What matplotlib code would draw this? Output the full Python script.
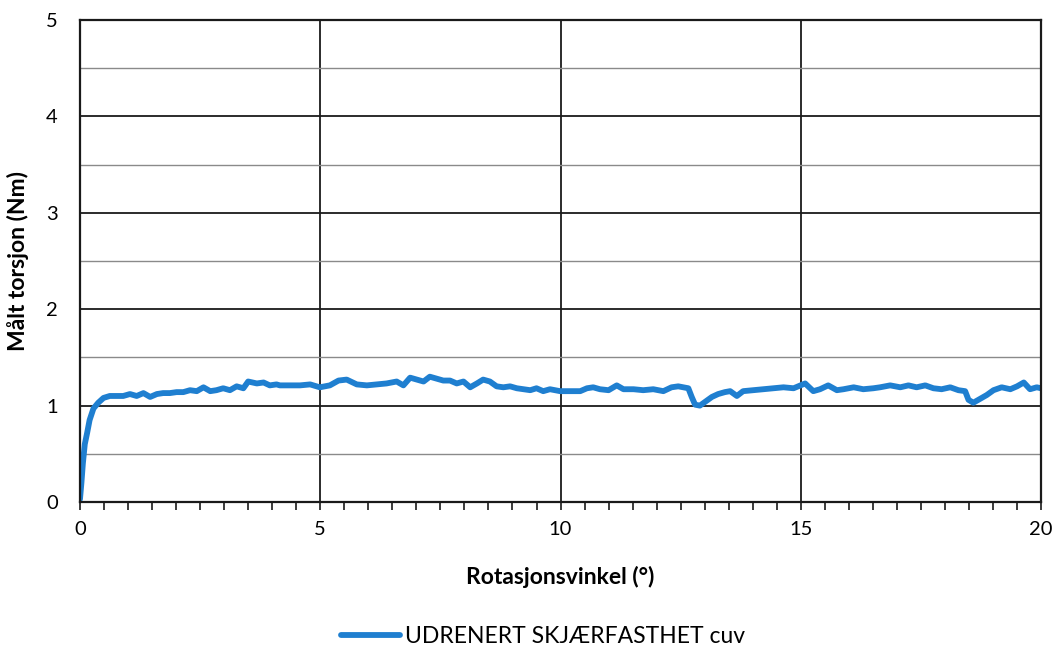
import matplotlib
matplotlib.use("Agg")
import matplotlib.pyplot as plt
from matplotlib.ticker import MultipleLocator

# Rotation angle (degrees) and measured torque (Nm)
angle = [0.00, 0.03, 0.06, 0.10, 0.15, 0.20, 0.28, 0.38, 0.49, 0.62, 0.76, 0.90,
         1.04, 1.18, 1.32, 1.46, 1.60, 1.73, 1.87, 2.01, 2.15, 2.29, 2.43, 2.57,
         2.71, 2.84, 2.98, 3.12, 3.26, 3.40, 3.50, 3.68, 3.82, 3.95, 4.09, 4.16,
         4.37, 4.58, 4.79, 4.99, 5.20, 5.38, 5.55, 5.76, 5.97, 6.17, 6.38, 6.59,
         6.73, 6.87, 7.01, 7.15, 7.28, 7.42, 7.56, 7.70, 7.84, 7.98, 8.12, 8.26,
         8.39, 8.53, 8.67, 8.81, 8.95, 9.09, 9.23, 9.37, 9.50, 9.64, 9.78, 9.99,
         10.20, 10.41, 10.55, 10.68, 10.82, 11.00, 11.17, 11.31, 11.52, 11.72,
         11.93, 12.14, 12.31, 12.45, 12.66, 12.73, 12.80, 12.90, 13.01, 13.15,
         13.28, 13.42, 13.53, 13.67, 13.80, 14.01, 14.22, 14.43, 14.64, 14.85,
         15.09, 15.26, 15.40, 15.57, 15.75, 15.89, 16.10, 16.30, 16.51, 16.65,
         16.86, 17.07, 17.24, 17.41, 17.59, 17.76, 17.93, 18.11, 18.28, 18.42,
         18.49, 18.59, 18.73, 18.87, 19.01, 19.18, 19.36, 19.50, 19.64, 19.77,
         19.91, 20.00]
torque = [0.03, 0.20, 0.40, 0.60, 0.72, 0.85, 0.97, 1.03, 1.08, 1.10, 1.10, 1.10,
          1.12, 1.10, 1.13, 1.09, 1.12, 1.13, 1.13, 1.14, 1.14, 1.16, 1.15, 1.19,
          1.15, 1.16, 1.18, 1.16, 1.20, 1.18, 1.25, 1.23, 1.24, 1.21, 1.22, 1.21,
          1.21, 1.21, 1.22, 1.19, 1.21, 1.26, 1.27, 1.22, 1.21, 1.22, 1.23, 1.25,
          1.21, 1.29, 1.27, 1.25, 1.30, 1.28, 1.26, 1.26, 1.23, 1.25, 1.19, 1.23,
          1.27, 1.25, 1.20, 1.19, 1.20, 1.18, 1.17, 1.16, 1.18, 1.15, 1.17, 1.15,
          1.15, 1.15, 1.18, 1.19, 1.17, 1.16, 1.21, 1.17, 1.17, 1.16,
          1.17, 1.15, 1.19, 1.20, 1.18, 1.09, 1.01, 1.00, 1.04, 1.09,
          1.12, 1.14, 1.15, 1.10, 1.15, 1.16, 1.17, 1.18, 1.19, 1.18,
          1.23, 1.15, 1.17, 1.21, 1.16, 1.17, 1.19, 1.17, 1.18, 1.19,
          1.21, 1.19, 1.21, 1.19, 1.21, 1.18, 1.17, 1.19, 1.16, 1.15,
          1.06, 1.03, 1.07, 1.11, 1.16, 1.19, 1.17, 1.20, 1.24, 1.17,
          1.19, 1.18]

x_ticks = [0, 5, 10, 15, 20]
y_ticks = [0, 1, 2, 3, 4, 5]
series_label = "UDRENERT SKJÆRFASTHET cuv"

plt.rcParams["font.family"] = ["Lato", "DejaVu Sans"]

fig = plt.figure(figsize=(10.58, 6.53), dpi=100)
ax = fig.add_axes([0.0756, 0.2312, 0.9084, 0.7382])

ax.set_xlim(0, 20)
ax.set_ylim(0, 5)
ax.set_xticks(x_ticks)
ax.set_yticks(y_ticks)
ax.xaxis.set_minor_locator(MultipleLocator(0.5))
ax.yaxis.set_minor_locator(MultipleLocator(0.5))

ax.grid(which="major", axis="both", color="#1a1a1a", linewidth=1.3)
ax.grid(which="minor", axis="y", color="#8a8a8a", linewidth=1.0)
ax.set_axisbelow(True)

for s in ax.spines.values():
    s.set_color("#1a1a1a")
    s.set_linewidth(1.6)

ax.tick_params(axis="x", which="both", direction="out", length=6, width=1.2,
               color="#1a1a1a", labelsize=14.5, pad=8)
ax.tick_params(axis="y", which="both", length=0, labelsize=14.5, pad=16)

ax.plot(angle, torque, color="#1f7fd0", linewidth=4.2, solid_joinstyle="round",
        solid_capstyle="round", label=series_label)

ax.set_xlabel("Rotasjonsvinkel (°)", fontsize=16.5, fontweight="bold", labelpad=20)
ax.set_ylabel("Målt torsjon (Nm)", fontsize=16.5, fontweight="bold", labelpad=12)

leg = fig.legend(loc="center", bbox_to_anchor=(0.513, 0.025), frameon=False,
                 fontsize=16.5, handlelength=2.6, handletextpad=0.2)

fig.savefig("out.png", dpi=100)
